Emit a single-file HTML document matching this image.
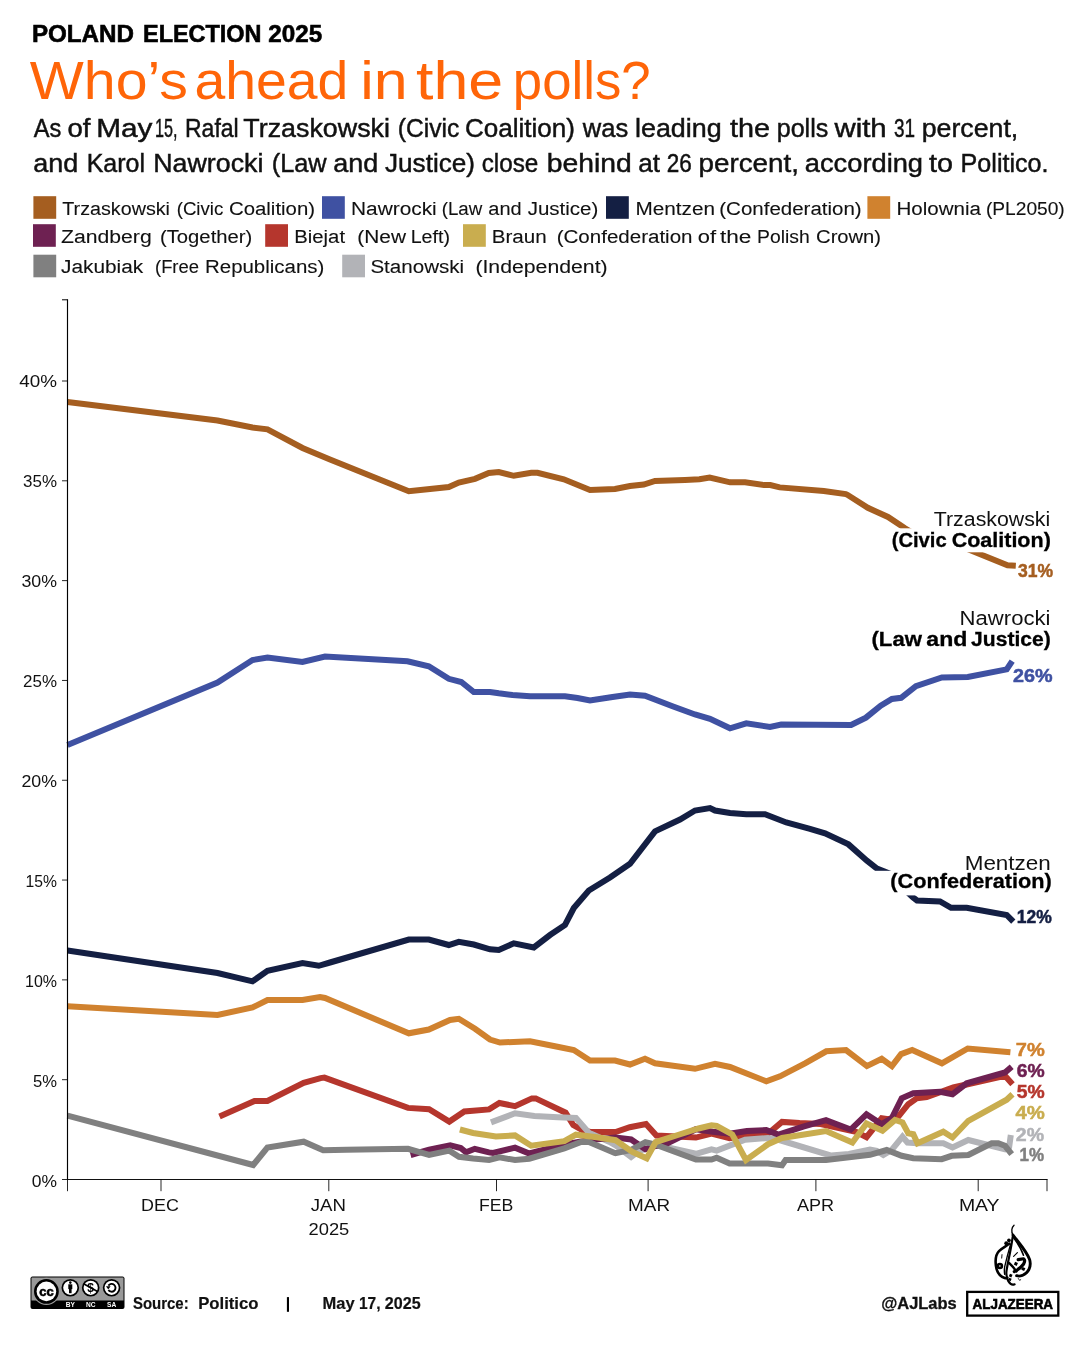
<!DOCTYPE html>
<html><head><meta charset="utf-8"><style>
html,body{margin:0;padding:0;background:#fff;}
body{width:1080px;height:1350px;overflow:hidden;font-family:"Liberation Sans",sans-serif;}
svg{display:block;font-family:"Liberation Sans",sans-serif;will-change:transform;}
</style></head><body>
<svg width="1080" height="1350" viewBox="0 0 1080 1350" font-family="Liberation Sans, sans-serif">
<rect width="1080" height="1350" fill="#fff"/>
<text x="31.90" y="41.7" font-size="24.5" font-weight="bold" fill="#000" textLength="102.15" lengthAdjust="spacingAndGlyphs" stroke="#000" stroke-width="0.6">POLAND</text><text x="143.00" y="41.7" font-size="24.5" font-weight="bold" fill="#000" textLength="118.52" lengthAdjust="spacingAndGlyphs" stroke="#000" stroke-width="0.6">ELECTION</text><text x="268.30" y="41.7" font-size="24.5" font-weight="bold" fill="#000" textLength="53.89" lengthAdjust="spacingAndGlyphs" stroke="#000" stroke-width="0.6">2025</text><text x="29.8" y="98.6" font-size="53" fill="#FF6508" textLength="158.0" lengthAdjust="spacingAndGlyphs">Who’s</text><text x="194.6" y="98.6" font-size="53" fill="#FF6508" textLength="153.8" lengthAdjust="spacingAndGlyphs">ahead</text><text x="360.2" y="98.6" font-size="53" fill="#FF6508" textLength="47.4" lengthAdjust="spacingAndGlyphs">in</text><text x="416.0" y="98.6" font-size="53" fill="#FF6508" textLength="87.2" lengthAdjust="spacingAndGlyphs">the</text><text x="512.8" y="98.6" font-size="53" fill="#FF6508" textLength="137.8" lengthAdjust="spacingAndGlyphs">polls?</text><text x="33.75" y="137" font-size="25" font-weight="normal" fill="#111" textLength="27.55" lengthAdjust="spacingAndGlyphs" stroke="#111" stroke-width="0.45">As</text><text x="67.50" y="137" font-size="25" font-weight="normal" fill="#111" textLength="22.97" lengthAdjust="spacingAndGlyphs" stroke="#111" stroke-width="0.45">of</text><text x="96.25" y="137" font-size="25" font-weight="normal" fill="#111" textLength="56.23" lengthAdjust="spacingAndGlyphs" stroke="#111" stroke-width="0.45">May</text><text x="155.00" y="137" font-size="25" font-weight="normal" fill="#111" textLength="22.50" lengthAdjust="spacingAndGlyphs" stroke="#111" stroke-width="0.45">15,</text><text x="185.00" y="137" font-size="25" font-weight="normal" fill="#111" textLength="53.74" lengthAdjust="spacingAndGlyphs" stroke="#111" stroke-width="0.45">Rafal</text><text x="243.30" y="137" font-size="25" font-weight="normal" fill="#111" textLength="146.66" lengthAdjust="spacingAndGlyphs" stroke="#111" stroke-width="0.45">Trzaskowski</text><text x="397.70" y="137" font-size="25" font-weight="normal" fill="#111" textLength="61.59" lengthAdjust="spacingAndGlyphs" stroke="#111" stroke-width="0.45">(Civic</text><text x="465.00" y="137" font-size="25" font-weight="normal" fill="#111" textLength="109.98" lengthAdjust="spacingAndGlyphs" stroke="#111" stroke-width="0.45">Coalition)</text><text x="582.83" y="137" font-size="25" font-weight="normal" fill="#111" textLength="45.43" lengthAdjust="spacingAndGlyphs" stroke="#111" stroke-width="0.45">was</text><text x="635.00" y="137" font-size="25" font-weight="normal" fill="#111" textLength="86.71" lengthAdjust="spacingAndGlyphs" stroke="#111" stroke-width="0.45">leading</text><text x="730.00" y="137" font-size="25" font-weight="normal" fill="#111" textLength="40.00" lengthAdjust="spacingAndGlyphs" stroke="#111" stroke-width="0.45">the</text><text x="776.70" y="137" font-size="25" font-weight="normal" fill="#111" textLength="51.64" lengthAdjust="spacingAndGlyphs" stroke="#111" stroke-width="0.45">polls</text><text x="834.45" y="137" font-size="25" font-weight="normal" fill="#111" textLength="52.21" lengthAdjust="spacingAndGlyphs" stroke="#111" stroke-width="0.45">with</text><text x="894.00" y="137" font-size="25" font-weight="normal" fill="#111" textLength="21.04" lengthAdjust="spacingAndGlyphs" stroke="#111" stroke-width="0.45">31</text><text x="921.70" y="137" font-size="25" font-weight="normal" fill="#111" textLength="96.56" lengthAdjust="spacingAndGlyphs" stroke="#111" stroke-width="0.45">percent,</text><text x="33.30" y="172" font-size="25" font-weight="normal" fill="#111" textLength="44.96" lengthAdjust="spacingAndGlyphs" stroke="#111" stroke-width="0.45">and</text><text x="86.70" y="172" font-size="25" font-weight="normal" fill="#111" textLength="58.29" lengthAdjust="spacingAndGlyphs" stroke="#111" stroke-width="0.45">Karol</text><text x="153.30" y="172" font-size="25" font-weight="normal" fill="#111" textLength="110.05" lengthAdjust="spacingAndGlyphs" stroke="#111" stroke-width="0.45">Nawrocki</text><text x="271.70" y="172" font-size="25" font-weight="normal" fill="#111" textLength="54.94" lengthAdjust="spacingAndGlyphs" stroke="#111" stroke-width="0.45">(Law</text><text x="333.30" y="172" font-size="25" font-weight="normal" fill="#111" textLength="44.96" lengthAdjust="spacingAndGlyphs" stroke="#111" stroke-width="0.45">and</text><text x="385.00" y="172" font-size="25" font-weight="normal" fill="#111" textLength="90.01" lengthAdjust="spacingAndGlyphs" stroke="#111" stroke-width="0.45">Justice)</text><text x="481.70" y="172" font-size="25" font-weight="normal" fill="#111" textLength="56.59" lengthAdjust="spacingAndGlyphs" stroke="#111" stroke-width="0.45">close</text><text x="546.70" y="172" font-size="25" font-weight="normal" fill="#111" textLength="84.94" lengthAdjust="spacingAndGlyphs" stroke="#111" stroke-width="0.45">behind</text><text x="638.30" y="172" font-size="25" font-weight="normal" fill="#111" textLength="21.67" lengthAdjust="spacingAndGlyphs" stroke="#111" stroke-width="0.45">at</text><text x="666.70" y="172" font-size="25" font-weight="normal" fill="#111" textLength="25.05" lengthAdjust="spacingAndGlyphs" stroke="#111" stroke-width="0.45">26</text><text x="698.60" y="172" font-size="25" font-weight="normal" fill="#111" textLength="100.35" lengthAdjust="spacingAndGlyphs" stroke="#111" stroke-width="0.45">percent,</text><text x="804.80" y="172" font-size="25" font-weight="normal" fill="#111" textLength="118.23" lengthAdjust="spacingAndGlyphs" stroke="#111" stroke-width="0.45">according</text><text x="929.10" y="172" font-size="25" font-weight="normal" fill="#111" textLength="23.97" lengthAdjust="spacingAndGlyphs" stroke="#111" stroke-width="0.45">to</text><text x="960.60" y="172" font-size="25" font-weight="normal" fill="#111" textLength="87.94" lengthAdjust="spacingAndGlyphs" stroke="#111" stroke-width="0.45">Politico.</text>
<rect x="33.4" y="196.2" width="22.8" height="22.6" fill="#A55E20"/><rect x="322" y="196.2" width="22.8" height="22.6" fill="#3F51A2"/><rect x="606" y="196.2" width="22.8" height="22.6" fill="#141F43"/><rect x="867.4" y="196.2" width="22.8" height="22.6" fill="#D0822F"/><rect x="33" y="224.2" width="22.8" height="22.6" fill="#6E2152"/><rect x="265.2" y="224.2" width="22.8" height="22.6" fill="#B5362D"/><rect x="463" y="224.2" width="22.8" height="22.6" fill="#C9AD4F"/><rect x="33.4" y="254.7" width="22.8" height="22.6" fill="#808080"/><rect x="342.2" y="254.7" width="22.8" height="22.6" fill="#B2B3B7"/><text x="62.30" y="215" font-size="18" font-weight="normal" fill="#111" textLength="107.67" lengthAdjust="spacingAndGlyphs" stroke="#111" stroke-width="0.1">Trzaskowski</text><text x="176.70" y="215" font-size="18" font-weight="normal" fill="#111" textLength="46.59" lengthAdjust="spacingAndGlyphs" stroke="#111" stroke-width="0.1">(Civic</text><text x="229.00" y="215" font-size="18" font-weight="normal" fill="#111" textLength="85.99" lengthAdjust="spacingAndGlyphs" stroke="#111" stroke-width="0.1">Coalition)</text><text x="351.00" y="215" font-size="18" font-weight="normal" fill="#111" textLength="85.74" lengthAdjust="spacingAndGlyphs" stroke="#111" stroke-width="0.1">Nawrocki</text><text x="441.70" y="215" font-size="18" font-weight="normal" fill="#111" textLength="40.55" lengthAdjust="spacingAndGlyphs" stroke="#111" stroke-width="0.1">(Law</text><text x="488.30" y="215" font-size="18" font-weight="normal" fill="#111" textLength="33.37" lengthAdjust="spacingAndGlyphs" stroke="#111" stroke-width="0.1">and</text><text x="527.70" y="215" font-size="18" font-weight="normal" fill="#111" textLength="70.61" lengthAdjust="spacingAndGlyphs" stroke="#111" stroke-width="0.1">Justice)</text><text x="635.50" y="215" font-size="18" font-weight="normal" fill="#111" textLength="79.51" lengthAdjust="spacingAndGlyphs" stroke="#111" stroke-width="0.1">Mentzen</text><text x="719.30" y="215" font-size="18" font-weight="normal" fill="#111" textLength="142.37" lengthAdjust="spacingAndGlyphs" stroke="#111" stroke-width="0.1">(Confederation)</text><text x="896.50" y="215" font-size="18" font-weight="normal" fill="#111" textLength="84.47" lengthAdjust="spacingAndGlyphs" stroke="#111" stroke-width="0.1">Holownia</text><text x="985.90" y="215" font-size="18" font-weight="normal" fill="#111" textLength="78.88" lengthAdjust="spacingAndGlyphs" stroke="#111" stroke-width="0.1">(PL2050)</text><text x="61.00" y="243" font-size="18" font-weight="normal" fill="#111" textLength="90.72" lengthAdjust="spacingAndGlyphs" stroke="#111" stroke-width="0.1">Zandberg</text><text x="160.00" y="243" font-size="18" font-weight="normal" fill="#111" textLength="92.26" lengthAdjust="spacingAndGlyphs" stroke="#111" stroke-width="0.1">(Together)</text><text x="294.30" y="243" font-size="18" font-weight="normal" fill="#111" textLength="50.73" lengthAdjust="spacingAndGlyphs" stroke="#111" stroke-width="0.1">Biejat</text><text x="357.30" y="243" font-size="18" font-weight="normal" fill="#111" textLength="48.67" lengthAdjust="spacingAndGlyphs" stroke="#111" stroke-width="0.1">(New</text><text x="410.70" y="243" font-size="18" font-weight="normal" fill="#111" textLength="39.32" lengthAdjust="spacingAndGlyphs" stroke="#111" stroke-width="0.1">Left)</text><text x="491.70" y="243" font-size="18" font-weight="normal" fill="#111" textLength="54.97" lengthAdjust="spacingAndGlyphs" stroke="#111" stroke-width="0.1">Braun</text><text x="556.70" y="243" font-size="18" font-weight="normal" fill="#111" textLength="135.81" lengthAdjust="spacingAndGlyphs" stroke="#111" stroke-width="0.1">(Confederation</text><text x="697.80" y="243" font-size="18" font-weight="normal" fill="#111" textLength="18.28" lengthAdjust="spacingAndGlyphs" stroke="#111" stroke-width="0.1">of</text><text x="720.00" y="243" font-size="18" font-weight="normal" fill="#111" textLength="31.40" lengthAdjust="spacingAndGlyphs" stroke="#111" stroke-width="0.1">the</text><text x="757.00" y="243" font-size="18" font-weight="normal" fill="#111" textLength="52.68" lengthAdjust="spacingAndGlyphs" stroke="#111" stroke-width="0.1">Polish</text><text x="816.10" y="243" font-size="18" font-weight="normal" fill="#111" textLength="64.96" lengthAdjust="spacingAndGlyphs" stroke="#111" stroke-width="0.1">Crown)</text><text x="61.00" y="272.6" font-size="18" font-weight="normal" fill="#111" textLength="82.23" lengthAdjust="spacingAndGlyphs" stroke="#111" stroke-width="0.1">Jakubiak</text><text x="155.00" y="272.6" font-size="18" font-weight="normal" fill="#111" textLength="43.99" lengthAdjust="spacingAndGlyphs" stroke="#111" stroke-width="0.1">(Free</text><text x="205.00" y="272.6" font-size="18" font-weight="normal" fill="#111" textLength="119.33" lengthAdjust="spacingAndGlyphs" stroke="#111" stroke-width="0.1">Republicans)</text><text x="370.40" y="272.6" font-size="18" font-weight="normal" fill="#111" textLength="93.75" lengthAdjust="spacingAndGlyphs" stroke="#111" stroke-width="0.1">Stanowski</text><text x="475.40" y="272.6" font-size="18" font-weight="normal" fill="#111" textLength="132.25" lengthAdjust="spacingAndGlyphs" stroke="#111" stroke-width="0.1">(Independent)</text>
<polyline points="219.5,1116.5 254.5,1101.0 267.4,1101.0 303.7,1082.8 320.6,1078.1 324.4,1077.6 408.0,1107.9 429.1,1109.3 449.3,1121.6 464.3,1111.4 489.1,1109.4 499.4,1103.0 515.0,1106.2 531.9,1098.4 535.7,1098.4 565.6,1112.7 573.3,1125.0 582.4,1130.2 591.5,1132.1 615.6,1132.1 629.8,1127.2 646.0,1124.0 656.4,1135.6 695.9,1137.6 711.5,1133.7 729.6,1138.2 750.4,1135.4 768.0,1133.7 782.0,1121.9 799.6,1123.1 820.7,1124.0 856.0,1131.9 866.5,1137.2 881.7,1118.3 888.3,1119.2 898.3,1116.7 908.3,1104.2 916.7,1098.3 926.7,1097.0 953.3,1087.5 1005.0,1075.8 1012.5,1084.2" fill="none" stroke="#B5362D" stroke-width="6.0" stroke-linejoin="miter" stroke-miterlimit="3"/><polyline points="491.0,1122.4 515.0,1113.3 534.4,1115.9 557.8,1117.2 575.9,1117.9 588.9,1132.8 609.6,1141.9 615.6,1145.4 631.1,1157.0 638.9,1151.2 655.7,1144.7 695.9,1153.8 711.5,1149.3 716.7,1150.6 745.1,1139.8 768.0,1138.0 778.5,1139.8 831.3,1155.6 848.9,1153.9 870.0,1149.5 876.7,1150.8 883.3,1155.0 891.7,1150.0 902.5,1136.7 907.5,1142.5 917.5,1143.3 943.3,1143.3 952.5,1147.5 968.3,1140.0 1005.0,1149.2 1009.2,1146.7 1010.8,1135.0" fill="none" stroke="#B2B3B7" stroke-width="6.0" stroke-linejoin="miter" stroke-miterlimit="3"/><polyline points="410.6,1155.0 429.1,1149.7 450.2,1145.3 460.7,1148.0 466.0,1152.4 474.8,1148.8 488.9,1152.4 493.0,1152.9 515.0,1147.7 529.3,1153.5 564.3,1144.4 590.0,1140.0 615.6,1137.6 631.1,1139.5 645.4,1149.3 655.7,1146.0 664.8,1144.7 695.9,1129.2 712.8,1131.8 729.6,1133.7 746.9,1131.0 766.2,1130.1 778.5,1134.5 803.2,1126.6 826.0,1120.1 850.7,1129.6 866.5,1114.3 881.7,1124.2 891.7,1118.3 901.7,1098.3 913.3,1093.3 940.0,1091.7 952.5,1094.2 966.7,1083.3 1005.0,1072.5 1011.7,1066.7" fill="none" stroke="#6E2152" stroke-width="6.0" stroke-linejoin="miter" stroke-miterlimit="3"/><polyline points="67.5,1115.7 253.2,1165.0 267.4,1147.6 303.7,1141.7 323.2,1150.2 346.4,1149.7 408.0,1148.8 429.1,1155.0 449.3,1150.6 459.0,1156.8 473.1,1158.5 489.1,1160.0 499.4,1157.4 515.0,1160.0 529.3,1158.7 564.3,1148.3 581.1,1141.9 588.9,1141.9 614.8,1152.9 615.6,1153.2 631.1,1149.9 645.4,1142.1 655.7,1144.7 695.9,1159.6 711.5,1159.6 716.7,1157.7 729.6,1163.5 768.0,1163.6 782.0,1165.3 785.6,1160.0 826.0,1160.0 870.0,1154.8 886.7,1150.0 901.7,1155.8 913.3,1158.3 941.7,1159.2 951.7,1155.8 968.3,1155.0 991.7,1143.3 998.3,1143.3 1005.0,1145.8 1011.7,1154.2" fill="none" stroke="#808080" stroke-width="6.0" stroke-linejoin="miter" stroke-miterlimit="3"/><polyline points="459.9,1129.5 473.1,1133.0 495.9,1136.5 515.0,1135.4 531.2,1145.7 564.3,1141.2 575.9,1134.7 596.7,1137.3 615.6,1140.2 632.4,1151.9 646.7,1158.3 655.7,1142.1 677.8,1135.0 698.5,1128.5 711.5,1125.3 716.7,1125.9 732.2,1134.4 746.0,1160.0 768.0,1144.2 782.0,1138.0 826.0,1131.0 852.4,1142.5 866.5,1123.5 882.5,1130.8 895.0,1120.0 902.5,1122.5 908.3,1133.3 913.3,1134.2 917.5,1143.3 943.3,1131.7 952.5,1137.5 968.3,1120.8 1006.7,1099.7 1012.5,1094.2" fill="none" stroke="#C9AD4F" stroke-width="6.0" stroke-linejoin="miter" stroke-miterlimit="3"/><polyline points="67.5,1006.3 217.5,1015.0 252.5,1007.5 267.5,1000.0 302.5,1000.0 320.0,997.0 325.0,998.0 408.8,1033.3 428.8,1029.5 450.0,1020.0 458.8,1018.8 475.0,1028.8 490.0,1039.5 500.0,1042.5 530.0,1041.3 555.0,1046.3 573.8,1050.0 590.0,1060.5 615.0,1060.5 630.0,1064.5 645.0,1058.8 655.0,1063.3 695.0,1068.8 715.0,1063.8 730.0,1067.0 766.3,1081.3 780.0,1076.3 805.0,1063.3 826.3,1051.3 846.0,1050.0 866.9,1066.1 881.7,1058.7 891.9,1066.1 901.1,1054.1 912.2,1050.0 941.9,1063.3 967.8,1048.5 1010.4,1052.2" fill="none" stroke="#D0822F" stroke-width="6.0" stroke-linejoin="miter" stroke-miterlimit="3"/><polyline points="67.5,950.5 217.5,973.0 252.5,981.3 267.5,970.8 302.5,963.0 318.8,965.8 330.0,962.5 408.8,939.5 428.8,939.5 448.8,945.0 458.8,941.8 473.8,944.5 490.0,949.3 498.8,950.0 513.8,943.3 533.8,947.5 550.0,935.0 565.0,925.0 573.8,908.0 588.8,890.5 610.0,877.5 630.0,863.8 655.0,831.3 680.0,819.5 695.0,810.5 710.0,808.0 715.0,810.5 730.0,813.0 746.3,814.3 765.0,814.3 786.3,822.5 810.0,828.8 825.0,833.3 848.5,844.4 866.9,860.7 877.0,868.5 892.0,874.5 905.0,890.0 913.0,897.5 917.0,900.5 940.0,901.5 951.1,907.8 966.7,907.8 1006.7,915.0 1013.3,921.7" fill="none" stroke="#141F43" stroke-width="6.0" stroke-linejoin="miter" stroke-miterlimit="3"/><polyline points="67.5,745.0 217.5,682.5 252.5,660.0 267.5,657.5 302.5,662.0 325.0,656.5 407.5,661.3 428.8,666.3 448.8,678.8 461.3,682.0 473.8,692.0 490.0,692.0 498.8,693.3 512.5,695.0 530.0,696.3 565.0,696.3 577.5,698.0 590.0,700.5 612.5,697.0 630.0,694.5 645.0,695.8 672.5,706.3 695.0,714.5 710.0,718.8 730.0,728.3 746.3,723.3 770.0,727.0 781.3,724.6 851.1,725.0 865.9,717.6 880.7,705.6 891.9,699.0 901.1,697.8 915.9,686.1 941.9,677.4 967.8,676.9 1006.7,669.4 1012.2,661.1" fill="none" stroke="#3F51A2" stroke-width="6.0" stroke-linejoin="miter" stroke-miterlimit="3"/><polyline points="67.5,402.0 217.5,420.5 252.5,427.5 267.5,429.3 302.5,448.0 330.0,459.5 408.8,491.3 430.0,489.0 448.8,487.0 458.8,482.5 475.0,478.8 488.8,473.0 498.8,472.0 513.8,475.8 531.3,472.8 537.5,472.8 563.8,479.3 590.0,490.0 615.0,489.0 630.0,486.0 643.8,484.5 655.0,481.0 685.0,480.0 699.4,479.3 709.7,477.6 730.1,482.3 745.1,482.3 764.0,485.1 770.3,485.1 779.7,487.4 823.8,491.0 845.8,494.1 847.4,494.8 867.8,507.8 888.0,517.0 905.0,528.3 918.0,536.0 960.0,546.0 1007.5,565.3 1015.8,565.8" fill="none" stroke="#A55E20" stroke-width="6.0" stroke-linejoin="miter" stroke-miterlimit="3"/>
<line x1="67.5" y1="299.2" x2="67.5" y2="1180" stroke="#000" stroke-width="1.15"/><line x1="67" y1="1179.5" x2="1047.6" y2="1179.5" stroke="#111" stroke-width="1.1"/><line x1="62" y1="1079.69" x2="67.5" y2="1079.69" stroke="#000" stroke-width="0.85"/><line x1="62" y1="979.88" x2="67.5" y2="979.88" stroke="#000" stroke-width="0.85"/><line x1="62" y1="880.06" x2="67.5" y2="880.06" stroke="#000" stroke-width="0.85"/><line x1="62" y1="780.25" x2="67.5" y2="780.25" stroke="#000" stroke-width="0.85"/><line x1="62" y1="680.44" x2="67.5" y2="680.44" stroke="#000" stroke-width="0.85"/><line x1="62" y1="580.62" x2="67.5" y2="580.62" stroke="#000" stroke-width="0.85"/><line x1="62" y1="480.81" x2="67.5" y2="480.81" stroke="#000" stroke-width="0.85"/><line x1="62" y1="381.00" x2="67.5" y2="381.00" stroke="#000" stroke-width="0.85"/><line x1="62" y1="1179.5" x2="67.5" y2="1179.5" stroke="#000" stroke-width="0.85"/><line x1="62" y1="299.8" x2="67.5" y2="299.8" stroke="#000" stroke-width="1.0"/><line x1="67.5" y1="1179.5" x2="67.5" y2="1191.2" stroke="#000" stroke-width="0.85"/><line x1="161" y1="1179.5" x2="161" y2="1191.2" stroke="#000" stroke-width="0.85"/><line x1="328.8" y1="1179.5" x2="328.8" y2="1191.2" stroke="#000" stroke-width="0.85"/><line x1="496.5" y1="1179.5" x2="496.5" y2="1191.2" stroke="#000" stroke-width="0.85"/><line x1="648.1" y1="1179.5" x2="648.1" y2="1191.2" stroke="#000" stroke-width="0.85"/><line x1="815.9" y1="1179.5" x2="815.9" y2="1191.2" stroke="#000" stroke-width="0.85"/><line x1="978.2" y1="1179.5" x2="978.2" y2="1191.2" stroke="#000" stroke-width="0.85"/><line x1="1047" y1="1179.5" x2="1047" y2="1191.2" stroke="#000" stroke-width="0.85"/>
<text x="31.80" y="1186.5" font-size="17.3" font-weight="normal" fill="#111" textLength="25.21" lengthAdjust="spacingAndGlyphs">0%</text><text x="33.00" y="1086.5" font-size="17.3" font-weight="normal" fill="#111" textLength="24.01" lengthAdjust="spacingAndGlyphs">5%</text><text x="25.00" y="986.5" font-size="17.3" font-weight="normal" fill="#111" textLength="32.02" lengthAdjust="spacingAndGlyphs">10%</text><text x="25.60" y="886.5" font-size="17.3" font-weight="normal" fill="#111" textLength="31.42" lengthAdjust="spacingAndGlyphs">15%</text><text x="21.50" y="786.5" font-size="17.3" font-weight="normal" fill="#111" textLength="35.53" lengthAdjust="spacingAndGlyphs">20%</text><text x="23.10" y="686.5" font-size="17.3" font-weight="normal" fill="#111" textLength="33.93" lengthAdjust="spacingAndGlyphs">25%</text><text x="21.50" y="586.5" font-size="17.3" font-weight="normal" fill="#111" textLength="35.53" lengthAdjust="spacingAndGlyphs">30%</text><text x="23.10" y="486.5" font-size="17.3" font-weight="normal" fill="#111" textLength="33.93" lengthAdjust="spacingAndGlyphs">35%</text><text x="19.30" y="386.5" font-size="17.3" font-weight="normal" fill="#111" textLength="37.73" lengthAdjust="spacingAndGlyphs">40%</text><text x="141.10" y="1211.1" font-size="17.3" font-weight="normal" fill="#111" textLength="37.83" lengthAdjust="spacingAndGlyphs">DEC</text><text x="310.70" y="1211.1" font-size="17.3" font-weight="normal" fill="#111" textLength="35.19" lengthAdjust="spacingAndGlyphs">JAN</text><text x="478.90" y="1211.1" font-size="17.3" font-weight="normal" fill="#111" textLength="34.40" lengthAdjust="spacingAndGlyphs">FEB</text><text x="628.10" y="1211.1" font-size="17.3" font-weight="normal" fill="#111" textLength="41.94" lengthAdjust="spacingAndGlyphs">MAR</text><text x="797.00" y="1211.1" font-size="17.3" font-weight="normal" fill="#111" textLength="37.12" lengthAdjust="spacingAndGlyphs">APR</text><text x="958.90" y="1211.1" font-size="17.3" font-weight="normal" fill="#111" textLength="40.66" lengthAdjust="spacingAndGlyphs">MAY</text><text x="308.50" y="1235.2" font-size="17.3" font-weight="normal" fill="#111" textLength="40.79" lengthAdjust="spacingAndGlyphs">2025</text>
<rect x="885" y="528.3" width="168" height="24" fill="#fff"/><rect x="870" y="870.8" width="183" height="24.6" fill="#fff"/><text x="933.80" y="525.8" font-size="19.5" font-weight="normal" fill="#111" textLength="116.47" lengthAdjust="spacingAndGlyphs">Trzaskowski</text><text x="891.70" y="546.5" font-size="19.5" font-weight="bold" fill="#000" textLength="54.96" lengthAdjust="spacingAndGlyphs" stroke="#000" stroke-width="0.3">(Civic</text><text x="951.70" y="546.5" font-size="19.5" font-weight="bold" fill="#000" textLength="99.11" lengthAdjust="spacingAndGlyphs" stroke="#000" stroke-width="0.3">Coalition)</text><text x="959.60" y="624.6" font-size="19.5" font-weight="normal" fill="#111" textLength="90.84" lengthAdjust="spacingAndGlyphs">Nawrocki</text><text x="871.50" y="646" font-size="19.5" font-weight="bold" fill="#000" textLength="50.45" lengthAdjust="spacingAndGlyphs" stroke="#000" stroke-width="0.3">(Law</text><text x="926.30" y="646" font-size="19.5" font-weight="bold" fill="#000" textLength="41.05" lengthAdjust="spacingAndGlyphs" stroke="#000" stroke-width="0.3">and</text><text x="971.10" y="646" font-size="19.5" font-weight="bold" fill="#000" textLength="79.59" lengthAdjust="spacingAndGlyphs" stroke="#000" stroke-width="0.3">Justice)</text><text x="964.70" y="869.7" font-size="19.5" font-weight="normal" fill="#111" textLength="86.11" lengthAdjust="spacingAndGlyphs">Mentzen</text><text x="890.30" y="888.2" font-size="19.5" font-weight="bold" fill="#000" textLength="161.38" lengthAdjust="spacingAndGlyphs" stroke="#000" stroke-width="0.3">(Confederation)</text><text x="1018.00" y="576.5" font-size="18.5" font-weight="bold" fill="#A55E20" textLength="35.03" lengthAdjust="spacingAndGlyphs" stroke="#A55E20" stroke-width="0.5">31%</text><text x="1013.00" y="681.5" font-size="18.5" font-weight="bold" fill="#3F51A2" textLength="39.53" lengthAdjust="spacingAndGlyphs" stroke="#3F51A2" stroke-width="0.5">26%</text><text x="1016.70" y="922.8" font-size="18.5" font-weight="bold" fill="#141F43" textLength="35.03" lengthAdjust="spacingAndGlyphs" stroke="#141F43" stroke-width="0.5">12%</text><text x="1015.80" y="1055.7" font-size="18.5" font-weight="bold" fill="#D0822F" textLength="28.91" lengthAdjust="spacingAndGlyphs" stroke="#D0822F" stroke-width="0.5">7%</text><text x="1016.80" y="1076.9" font-size="18.5" font-weight="bold" fill="#6E2152" textLength="27.91" lengthAdjust="spacingAndGlyphs" stroke="#6E2152" stroke-width="0.5">6%</text><text x="1016.80" y="1097.6" font-size="18.5" font-weight="bold" fill="#B5362D" textLength="27.91" lengthAdjust="spacingAndGlyphs" stroke="#B5362D" stroke-width="0.5">5%</text><text x="1015.40" y="1118.8" font-size="18.5" font-weight="bold" fill="#C9AD4F" textLength="29.31" lengthAdjust="spacingAndGlyphs" stroke="#C9AD4F" stroke-width="0.5">4%</text><text x="1015.80" y="1140.8" font-size="18.5" font-weight="bold" fill="#B2B3B7" textLength="28.21" lengthAdjust="spacingAndGlyphs" stroke="#B2B3B7" stroke-width="0.5">2%</text><text x="1019.50" y="1160.7" font-size="18.5" font-weight="bold" fill="#808080" textLength="24.51" lengthAdjust="spacingAndGlyphs" stroke="#808080" stroke-width="0.5">1%</text>
<g><rect x="30.5" y="1276.5" width="94" height="32.5" rx="2" fill="#000"/><rect x="31.5" y="1277.5" width="92" height="23" fill="#999"/><circle cx="46.4" cy="1291.4" r="13.6" fill="#999"/><circle cx="46.4" cy="1291.4" r="12.4" fill="#000"/><circle cx="46.4" cy="1291.4" r="9.8" fill="#fff"/><text x="46.6" y="1295.8" font-size="12.5" font-weight="bold" text-anchor="middle" fill="#000" stroke="#000" stroke-width="0.6" textLength="14.5" lengthAdjust="spacingAndGlyphs">cc</text><circle cx="70.3" cy="1287.8" r="8.8" fill="#000"/><circle cx="70.3" cy="1287.8" r="7.1" fill="#fff"/><circle cx="90.7" cy="1287.8" r="8.8" fill="#000"/><circle cx="90.7" cy="1287.8" r="7.1" fill="#fff"/><circle cx="111.6" cy="1287.8" r="8.8" fill="#000"/><circle cx="111.6" cy="1287.8" r="7.1" fill="#fff"/><circle cx="70.3" cy="1282.6" r="1.3" fill="#000"/><rect x="68.3" y="1284.3" width="4" height="4.8" fill="#000"/><rect x="69" y="1289" width="2.6" height="4.2" fill="#000"/><text x="90.7" y="1292.3" font-size="12" font-weight="bold" text-anchor="middle" fill="#000">$</text><line x1="84" y1="1284" x2="97.5" y2="1291.5" stroke="#000" stroke-width="1.6"/><path d="M108.4,1285.6 A3.9,3.9 0 1 1 108.4,1290" fill="none" stroke="#000" stroke-width="1.9"/><path d="M106,1286.2 l4.6,0 l-2.3,3.2z" fill="#000"/><text x="70.3" y="1307.3" font-size="6.6" font-weight="bold" text-anchor="middle" fill="#fff">BY</text><text x="90.7" y="1307.3" font-size="6.6" font-weight="bold" text-anchor="middle" fill="#fff">NC</text><text x="111.6" y="1307.3" font-size="6.6" font-weight="bold" text-anchor="middle" fill="#fff">SA</text></g><text x="133.00" y="1309.4" font-size="17" font-weight="bold" fill="#111" textLength="55.67" lengthAdjust="spacingAndGlyphs" stroke="#111" stroke-width="0.2">Source:</text><text x="198.20" y="1309.4" font-size="17" font-weight="bold" fill="#111" textLength="60.32" lengthAdjust="spacingAndGlyphs" stroke="#111" stroke-width="0.2">Politico</text><rect x="286.9" y="1297.1" width="2.1" height="14.7" fill="#000"/><text x="322.50" y="1309.4" font-size="17" font-weight="bold" fill="#111" textLength="32.11" lengthAdjust="spacingAndGlyphs" stroke="#111" stroke-width="0.2">May</text><text x="358.90" y="1309.4" font-size="17" font-weight="bold" fill="#111" textLength="21.60" lengthAdjust="spacingAndGlyphs" stroke="#111" stroke-width="0.2">17,</text><text x="384.80" y="1309.4" font-size="17" font-weight="bold" fill="#111" textLength="35.79" lengthAdjust="spacingAndGlyphs" stroke="#111" stroke-width="0.2">2025</text><text x="881.20" y="1308.8" font-size="17" font-weight="bold" fill="#111" textLength="75.56" lengthAdjust="spacingAndGlyphs" stroke="#111" stroke-width="0.3">@AJLabs</text><rect x="967.2" y="1291.9" width="91.1" height="23.7" fill="none" stroke="#000" stroke-width="2.3"/><text x="972.60" y="1308.8" font-size="14.2" font-weight="bold" fill="#000" textLength="80.41" lengthAdjust="spacingAndGlyphs" stroke="#000" stroke-width="0.6">ALJAZEERA</text><g transform="translate(985,1220) scale(0.05184)" fill="none" stroke="#000" stroke-linecap="round" stroke-linejoin="round">
<path d="M560,100 C515,140 500,220 540,290" stroke-width="26"/>
<path d="M540,290 C650,440 800,600 860,760 C900,900 840,1020 720,1070 C680,1085 640,1085 610,1075" stroke-width="56"/>
<path d="M548,335 C600,410 690,520 742,680" stroke-width="30"/>
<path d="M470,455 C420,500 330,540 270,600 C210,660 195,760 210,880 C225,1000 290,1090 380,1120 C400,1125 420,1120 430,1110" stroke-width="50"/>
<path d="M535,320 C520,420 505,520 480,640 C455,760 430,880 415,980 C405,1060 420,1130 450,1180 C480,1230 530,1260 570,1240" stroke-width="42"/>
<path d="M492,470 C455,600 410,770 380,900 C370,960 372,1010 380,1050" stroke-width="26"/>
<path d="M640,765 L745,748 C770,765 765,810 745,848 C705,905 645,955 565,995" stroke-width="62"/>
<path d="M468,832 C520,880 565,930 605,992" stroke-width="48"/>
<path d="M552,700 L625,628" stroke-width="22"/>
<path d="M328,668 L322,735" stroke-width="18"/>
<path d="M642,1128 L668,1165 L690,1150" stroke-width="16"/>
<circle cx="287" cy="888" r="40" stroke-width="48"/>
</g>
<g transform="translate(985,1220) scale(0.05184)" fill="#000">
<circle cx="410" cy="450" r="38"/><circle cx="462" cy="392" r="36"/>
<rect x="566" y="816" width="60" height="60" transform="rotate(25 596 846)"/>
<rect x="710" y="915" width="60" height="60" transform="rotate(25 740 945)"/>
<rect x="468" y="1044" width="54" height="54" transform="rotate(25 495 1071)"/>
<rect x="456" y="1122" width="50" height="50" transform="rotate(25 481 1147)"/>
</g>
</svg>
</body></html>
